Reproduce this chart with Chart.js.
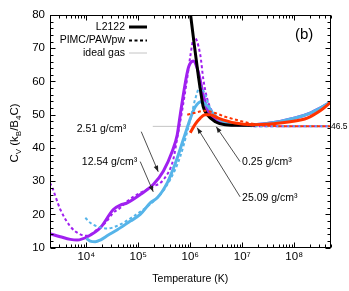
<!DOCTYPE html>
<html>
<head>
<meta charset="utf-8">
<script src="https://cdn.jsdelivr.net/npm/chart.js@4.4.0/dist/chart.umd.min.js"></script>
<style>
  html, body { margin: 0; padding: 0; background: #fff; }
</style>
</head>
<body>
<canvas id="cvchart" width="349" height="291"></canvas>
<script>
// C_V (k_B per B4C) vs temperature (K)
const purpleT = [2000, 3160, 4920, 6710, 10450, 18600, 33100, 45100, 61400, 109000, 194000, 303000, 451000, 562000, 642000, 801000, 916000, 1.0e6, 1.14e6, 1.43e6, 1.78e6, 2.22e6, 3.03e6, 4.31e6, 7.33e6, 1.43e7, 2.77e7, 5.38e7, 1.04e8, 2.03e8, 3.16e8, 5e8];
const purpleCv = [14.2, 13.3, 12.5, 12.3, 13.3, 16.0, 21.5, 22.8, 23.5, 26.0, 29.0, 33.0, 39.0, 44.0, 50.0, 59.5, 64.0, 65.5, 66.2, 62.9, 56.0, 50.9, 48.8, 47.3, 47.0, 47.0, 47.3, 48.0, 49.0, 50.5, 52.0, 53.7];

const purpleDashT = [2000, 2220, 3160, 4920, 7670, 10450, 16300, 23200, 33100, 45100, 61400, 109000, 194000, 303000, 471000, 562000, 702000, 875000, 1.0e6, 1.19e6, 1.56e6, 1.78e6, 2.12e6, 2.65e6, 3.78e6, 5.88e6, 1.14e7, 2.22e7, 5e8];
const purpleDashCv = [29.5, 28.0, 21.5, 16.4, 14.0, 13.6, 15.5, 17.5, 20.5, 22.0, 24.0, 26.5, 28.4, 30.4, 36.5, 43.0, 51.5, 61.0, 67.5, 73.4, 68.0, 60.8, 54.8, 51.0, 48.5, 47.2, 46.7, 46.5, 46.5];

const blueT = [10000, 11900, 14900, 18600, 26500, 39500, 70200, 109000, 170000, 232000, 361000, 451000, 562000, 733000, 801000, 1.0e6, 1.25e6, 1.63e6, 2.22e6, 2.77e6, 3.45e6, 4.71e6, 7.33e6, 1.43e7, 2.77e7, 5.38e7, 1.04e8, 2.03e8, 3.16e8, 5e8];
const blueCv = [12.8, 12.0, 11.8, 12.3, 13.8, 15.4, 18.0, 20.0, 23.5, 25.0, 29.5, 33.0, 37.0, 42.5, 44.3, 48.8, 52.4, 53.9, 52.4, 50.3, 48.8, 47.8, 47.2, 47.0, 47.3, 48.0, 49.0, 50.5, 52.0, 53.8];

const blueDashT = [9570, 11900, 16300, 25300, 45100, 80100, 149000, 265000, 412000, 642000, 875000, 1.09e6, 1.25e6, 1.56e6, 1.94e6, 2.43e6, 3.03e6, 4.71e6, 9.16e6, 2.22e7, 5e8];
const blueDashCv = [19.0, 17.5, 16.4, 15.8, 17.0, 19.4, 22.4, 26.0, 30.5, 37.4, 44.9, 50.9, 54.8, 58.4, 56.0, 51.8, 49.4, 47.5, 46.8, 46.5, 46.5];

const redT = [1.0e6, 1.25e6, 1.56e6, 1.94e6, 2.43e6, 3.45e6, 7.33e6, 1.56e7, 3.95e7, 8.38e7, 1.78e8, 3.16e8, 5e8];
const redCv = [44.6, 47.2, 49.0, 50.0, 50.0, 49.0, 47.5, 47.0, 47.3, 47.9, 49.0, 51.2, 53.7];

const redDashT = [875000, 1.25e6, 1.94e6, 3.03e6, 4.71e6, 1.0e7, 2.03e7, 4.31e7, 1.30e8, 5e8];
const redDashCv = [50.0, 50.6, 51.2, 50.5, 49.4, 48.0, 47.0, 46.6, 46.5, 46.5];

const blackT = [916000, 1.0e6, 1.19e6, 1.43e6, 1.63e6, 1.78e6, 2.12e6, 3.03e6, 4.71e6, 9.16e6, 1.78e7];
const blackCv = [85.7, 80.9, 71.3, 61.7, 55.8, 52.4, 50.0, 47.9, 47.0, 46.8, 46.9];

const idealT = [1.9e5, 5e8];
const idealCv = [46.5, 46.5];

const xTickValues = [1e4, 1e5, 1e6, 1e7, 1e8];
const xTickLabels = ["10\u2074", "10\u2075", "10\u2076", "10\u2077", "10\u2078"];
const legendLabels = ["L2122", "PIMC/PAWpw", "ideal gas"];

const noteLabels = ["2.51 g/cm\u00b3", "12.54 g/cm\u00b3", "0.25 g/cm\u00b3", "25.09 g/cm\u00b3"];
const noteTailT = [1.14e5, 1.09e5, 9.1e6, 9.1e6];
const noteTailCv = [44.9, 35.9, 35.9, 25.3];
const noteHeadT = [2.42e5, 1.94e5, 3.16e6, 1.36e6];
const noteHeadCv = [32.85, 26.8, 46.4, 46.1];

const PURPLE = "#a020f0";
const BLUE = "#56b4e9";
const RED = "#ff3300";
const FONT = '"Liberation Sans", Arial, Helvetica, sans-serif';

Chart.defaults.font.family = FONT;
Chart.defaults.color = "#000";

function pts(ts, vs) {
  return ts.map((t, i) => ({ x: t, y: vs[i] }));
}

function line(label, ts, vs, color, dashed) {
  return {
    label: label,
    data: pts(ts, vs),
    borderColor: color,
    borderWidth: dashed ? 2 : 3,
    borderDash: dashed ? [3, 2.5] : [],
    pointRadius: 0,
    fill: false,
    cubicInterpolationMode: "monotone",
  };
}

// draws the inward ticks, frame, legend and the labels with arrows
const decor = {
  id: "decor",
  afterDatasetsDraw(chart) {
    const { ctx, chartArea: a, scales } = chart;
    const x = scales.x, y = scales.y;
    const L = Math.round(a.left) + 0.5, R = Math.round(a.right) - 0.5;
    const T = Math.round(a.top) + 0.5, B = Math.round(a.bottom) - 0.5;
    ctx.save();
    ctx.strokeStyle = "#000";
    ctx.lineWidth = 1;
    ctx.beginPath();
    for (let e = 3; e <= 8; e++) {
      for (let k = 1; k <= 9; k++) {
        const v = k * Math.pow(10, e);
        if (v < x.min || v > x.max) continue;
        const px = Math.round(x.getPixelForValue(v)) + 0.5;
        const len = k === 1 ? 5 : 3;
        ctx.moveTo(px, B); ctx.lineTo(px, B - len);
        ctx.moveTo(px, T); ctx.lineTo(px, T + len);
      }
    }
    for (let v = 10; v <= 80; v += 2) {
      const py = Math.round(y.getPixelForValue(v)) + 0.5;
      const len = v % 10 === 0 ? 5 : 3;
      ctx.moveTo(L, py); ctx.lineTo(L + len, py);
      ctx.moveTo(R, py); ctx.lineTo(R - len, py);
    }
    ctx.stroke();
    ctx.strokeRect(L, T, R - L, B - T);

    // legend
    ctx.font = "10.5px " + FONT;
    ctx.textAlign = "right";
    ctx.textBaseline = "middle";
    ctx.fillStyle = "#000";
    const ly = [27, 40.5, 53];
    legendLabels.forEach((t, i) => ctx.fillText(t, 125, ly[i]));
    ctx.beginPath();
    ctx.lineWidth = 3; ctx.moveTo(129, ly[0]); ctx.lineTo(147, ly[0]); ctx.stroke();
    ctx.beginPath();
    ctx.lineWidth = 2; ctx.setLineDash([3, 2.5]); ctx.moveTo(129, ly[1]); ctx.lineTo(147, ly[1]); ctx.stroke();
    ctx.setLineDash([]);
    ctx.beginPath();
    ctx.lineWidth = 1; ctx.strokeStyle = "#c4c4c4"; ctx.moveTo(129, ly[2]); ctx.lineTo(147, ly[2]); ctx.stroke();

    // (b)
    ctx.fillStyle = "#000";
    ctx.font = "15px " + FONT;
    ctx.textAlign = "left";
    ctx.fillText("(b)", 295, 35);

    // 46.5 label at right
    ctx.font = "8.5px " + FONT;
    ctx.fillText("46.5", a.right + 0.5, y.getPixelForValue(46.5) + 0.5);

    // density labels with arrows
    ctx.font = "10.5px " + FONT;
    ctx.strokeStyle = "#222";
    ctx.fillStyle = "#222";
    ctx.lineWidth = 0.8;
    noteLabels.forEach((txt, i) => {
      const tx = x.getPixelForValue(noteTailT[i]), ty = y.getPixelForValue(noteTailCv[i]);
      const hx = x.getPixelForValue(noteHeadT[i]), hy = y.getPixelForValue(noteHeadCv[i]);
      ctx.beginPath(); ctx.moveTo(tx, ty); ctx.lineTo(hx, hy); ctx.stroke();
      const ang = Math.atan2(hy - ty, hx - tx);
      ctx.beginPath();
      ctx.moveTo(hx, hy);
      ctx.lineTo(hx - 6 * Math.cos(ang) + 2.3 * Math.sin(ang), hy - 6 * Math.sin(ang) - 2.3 * Math.cos(ang));
      ctx.lineTo(hx - 6 * Math.cos(ang) - 2.3 * Math.sin(ang), hy - 6 * Math.sin(ang) + 2.3 * Math.cos(ang));
      ctx.closePath();
      ctx.fill();
      ctx.fillStyle = "#000";
      if (i === 0) { ctx.textAlign = "right"; ctx.fillText(txt, tx - 15, ty - 3); }
      else if (i === 1) { ctx.textAlign = "right"; ctx.fillText(txt, tx - 3, ty + 1); }
      else { ctx.textAlign = "left"; ctx.fillText(txt, tx + 2, ty + 1); }
      ctx.fillStyle = "#222";
    });

    // y axis title with subscripts
    const segs = [["C", 11.5, 0], ["V", 8, 3], [" (k", 11.5, 0], ["B", 8, 3], ["/B", 11.5, 0], ["4", 8, 3], ["C)", 11.5, 0]];
    let w = 0;
    segs.forEach((s) => { ctx.font = s[1] + "px " + FONT; w += ctx.measureText(s[0]).width; });
    ctx.translate(14, 133);
    ctx.rotate(-Math.PI / 2);
    ctx.fillStyle = "#000";
    ctx.textAlign = "left";
    ctx.textBaseline = "alphabetic";
    let cx = -w / 2;
    segs.forEach((s) => {
      ctx.font = s[1] + "px " + FONT;
      ctx.fillText(s[0], cx, 4 + s[2]);
      cx += ctx.measureText(s[0]).width;
    });
    ctx.restore();
  },
};

const ctx = document.getElementById("cvchart").getContext("2d");

new Chart(ctx, {
  type: "line",
  data: {
    datasets: [
      line("0.25 g/cm3", redT, redCv, RED, false),
      line("0.25 g/cm3 PIMC", redDashT, redDashCv, RED, true),
      line("L2122", blackT, blackCv, "#000", false),
      line("blue", blueT, blueCv, BLUE, false),
      line("blue PIMC", blueDashT, blueDashCv, BLUE, true),
      line("purple", purpleT, purpleCv, PURPLE, false),
      line("purple PIMC", purpleDashT, purpleDashCv, PURPLE, true),
      {
        label: "ideal gas",
        data: pts(idealT, idealCv),
        borderColor: "#c4c4c4",
        borderWidth: 1,
        pointRadius: 0,
      },
    ],
  },
  options: {
    responsive: false,
    animation: false,
    layout: { padding: { left: 0, top: 15, right: 18.5, bottom: 0 } },
    scales: {
      x: {
        type: "logarithmic",
        min: 2000,
        max: 5e8,
        grid: { display: false, drawTicks: false },
        border: { display: false },
        afterBuildTicks: (s) => {
          s.ticks = xTickValues.map((v) => ({ value: v, major: true }));
        },
        ticks: {
          autoSkip: false,
          maxRotation: 0,
          padding: 2,
          font: { size: 11.5 },
          callback: (v) => {
            const i = xTickValues.indexOf(v);
            return i >= 0 ? xTickLabels[i] : "";
          },
        },
        title: { display: true, text: "Temperature (K)", font: { size: 10.5 }, padding: { top: 0, bottom: 6 } },
        afterFit: (s) => { s.height = 43.3; },
      },
      y: {
        min: 10,
        max: 80,
        grid: { display: false, drawTicks: false },
        border: { display: false },
        ticks: { stepSize: 10, padding: 5, font: { size: 11.5 } },
        afterFit: (s) => { s.width = 50; },
      },
    },
    plugins: {
      legend: { display: false },
      tooltip: { enabled: false },
    },
  },
  plugins: [decor],
});
</script>
</body>
</html>
